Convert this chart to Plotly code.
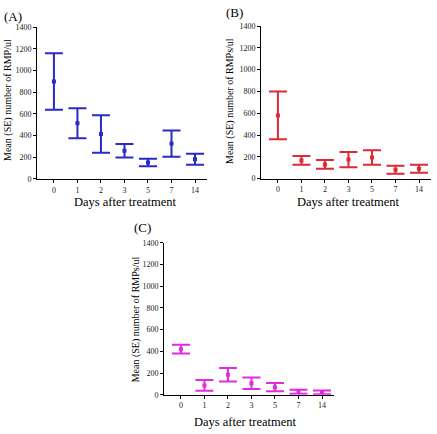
import plotly.graph_objects as go

days = ["0", "1", "2", "3", "5", "7", "14"]

a_mean = [898, 514, 414, 260, 152, 326, 182]
a_err = [260, 138, 173, 63, 35, 121, 50]

b_mean = [580, 167, 130, 175, 194, 82, 91]
b_err = [220, 40, 40, 70, 66, 37, 37]

c_mean = [420, 86, 184, 105, 70, 27, 22]
c_err = [40, 50, 63, 53, 38, 18, 18]

y_ticks = [0, 200, 400, 600, 800, 1000, 1200, 1400]

panels = [
    ("(A)", a_mean, a_err, "#2a2ac6", "Mean (SE) number of RMP/ul"),
    ("(B)", b_mean, b_err, "#dd2a33", "Mean (SE) number of RMPs/ul"),
    ("(C)", c_mean, c_err, "#e22ae2", "Mean (SE) number of RMPs/ul"),
]

W, H = 437, 434
# pixel boxes: (x0, x1, ytop(1400), ybottom(0))
boxes = [(37, 207, 23.5, 178.7), (261, 431, 22.5, 178.3), (164, 334, 244, 399)]

FONT = "Liberation Serif"
fig = go.Figure()
annotations = []
for i, ((lab, mean, err, col, ytitle), (x0, x1, yt, yb)) in enumerate(zip(panels, boxes)):
    sfx = "" if i == 0 else str(i + 1)
    fig.add_trace(go.Scatter(
        x=days, y=mean, mode="markers",
        marker=dict(symbol="square", size=4, color=col),
        error_y=dict(type="data", array=err, visible=True, color=col, thickness=2, width=9),
        xaxis="x" + sfx, yaxis="y" + sfx, showlegend=False,
    ))
    dom_x = [x0 / W, x1 / W]
    dom_y = [1 - yb / H, 1 - yt / H]
    fig.layout["xaxis" + sfx] = dict(
        domain=dom_x, anchor="y" + sfx, type="category", range=[-0.72, 6.51],
        showline=True, linecolor="black", linewidth=1, ticks="outside", ticklen=3,
        tickcolor="black", showgrid=False, zeroline=False,
        tickfont=dict(family=FONT, size=8, color="#222"),
    )
    fig.layout["yaxis" + sfx] = dict(
        domain=dom_y, anchor="x" + sfx, range=[0, 1400], tickvals=y_ticks,
        showline=True, linecolor="black", linewidth=1, ticks="outside", ticklen=3,
        tickcolor="black", showgrid=False, zeroline=False,
        tickfont=dict(family=FONT, size=8, color="#222"),
    )

# titles (pixel positions)
xt = [(125, 202), (348, 202), (246, 427)]
yt_pos = [(8, 98), (230, 99), (136, 322)]
labs = [(2, 13), (224, 9), (132, 228)]
for (lab, mean, err, col, ytitle), (tx, ty), (yx, yy), (lx, ly) in zip(panels, xt, yt_pos, labs):
    annotations.append(dict(text="Days after treatment", x=tx / W, y=1 - ty / H, xref="paper", yref="paper",
                            showarrow=False, xanchor="center", yanchor="middle",
                            font=dict(family=FONT, size=12.5, color="black")))
    annotations.append(dict(text=ytitle, x=yx / W, y=1 - yy / H, xref="paper", yref="paper",
                            showarrow=False, xanchor="center", yanchor="middle", textangle=-90,
                            font=dict(family=FONT, size=10, color="black")))
    annotations.append(dict(text=lab, x=lx / W, y=1 - ly / H, xref="paper", yref="paper",
                            showarrow=False, xanchor="left", yanchor="middle",
                            font=dict(family=FONT, size=13, color="black")))

fig.update_layout(
    width=W, height=H, margin=dict(l=0, r=0, t=0, b=0),
    plot_bgcolor="white", paper_bgcolor="white", annotations=annotations,
)
fig.write_html("out.html", config={"displayModeBar": False},
               post_script="document.body.style.margin='0';document.body.style.overflow='hidden';")
